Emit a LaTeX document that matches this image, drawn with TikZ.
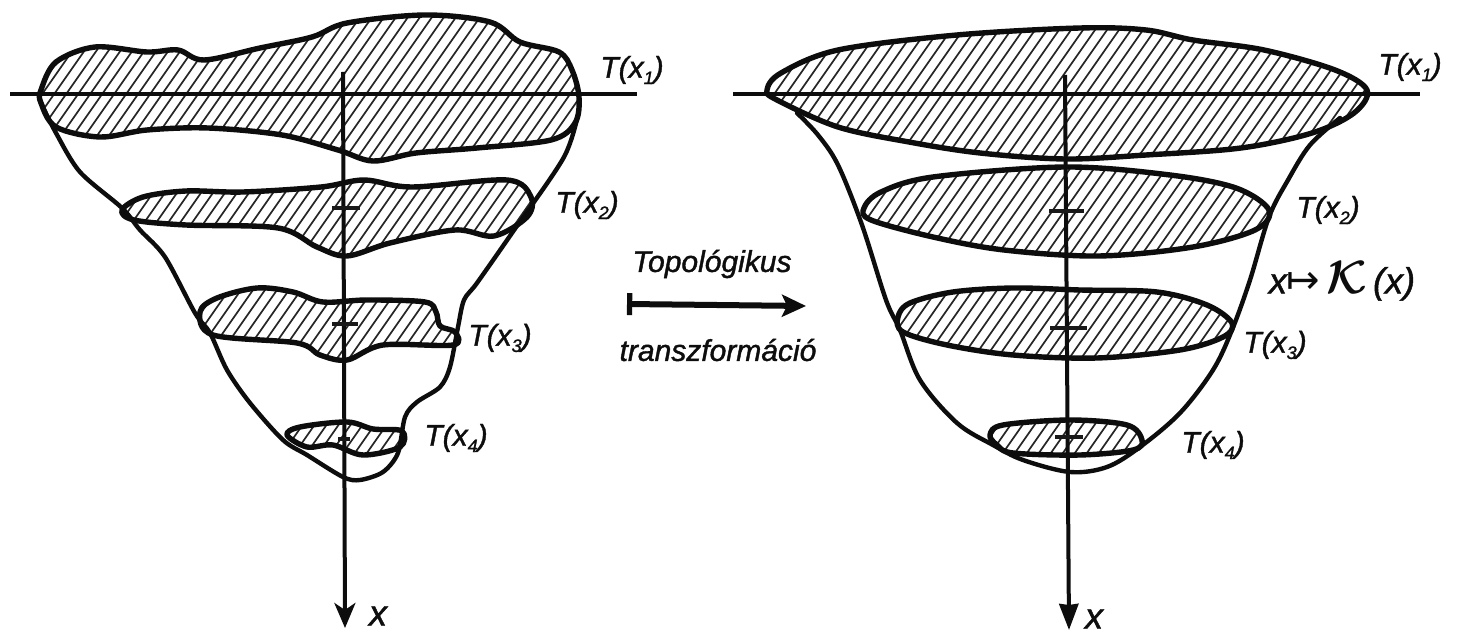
\documentclass[tikz,border=0pt]{standalone}
\usepackage{fontspec}
\setmainfont[ItalicFeatures={FakeBold=1.3}]{Liberation Sans}
\newfontfamily\symfont{DejaVu Sans}
\usetikzlibrary{arrows.meta}
\newcommand{\lowidx}[1]{\raisebox{-0.4ex}{\fontsize{9}{9}\selectfont #1}}
\tikzset{
  blob/.style={line width=2.7pt,line join=round,draw=black!95},
  hatchline/.style={line width=0.85pt,draw=black!85},
  outline/.style={line width=2.2pt,line join=round,line cap=round,draw=black!95},
  axisbase/.style={line width=2pt,draw=black!95},
  axisleft/.style={axisbase,-{Stealth[length=12.5pt,width=10.5pt,inset=3.5pt]}},
  axisright/.style={axisbase,-{Stealth[length=13pt,width=9.5pt,inset=0.5pt]}},
  baseline/.style={line width=2.4pt,draw=black!95},
  tickmark/.style={line width=2.2pt,draw=black!90},
  lab/.style={inner sep=0pt,font=\itshape\fontsize{15}{15}\selectfont,text=black!95},
  biglab/.style={inner sep=0pt,font=\itshape\fontsize{18}{18}\selectfont,text=black!95},
  midarrow/.style={line width=3pt,draw=black!95,{Bar[width=11pt,line width=2.6pt]}-{Stealth[length=12pt,width=11pt,inset=2.5pt]}},
}
\newcommand{\hatchblob}[1]{%
  \begin{scope}
    \clip plot[smooth cycle,tension=0.55] coordinates {#1};
    \foreach \c in {0,12,...,1900} { \draw[hatchline] (\c,0) -- ++(-350,500); }
  \end{scope}
  \draw[blob] plot[smooth cycle,tension=0.55] coordinates {#1};
}
\begin{document}
\begin{tikzpicture}[x=0.5pt,y=-0.5pt]
\useasboundingbox (0,0) rectangle (1462,641);
\fill[white] (0,0) rectangle (1462,641);
% LEFT
\hatchblob{(41,90)(56,62)(95,47)(147,52)(178,50)(204,60)(260,48)(312,37)(347,23)(425,15)(490,22)(520,42)(559,52)(572,70)(579,97)(575,123)(551,140)(477,148)(416,153)(373,161)(338,150)(282,135)(208,128)(147,130)(100,137)(56,127)(41,103)}
\hatchblob{(122,210)(143,197)(186,191)(243,192)(321,187)(364,180)(412,187)(507,180)(531,197)(527,217)(494,236)(455,230)(390,243)(347,256)(317,247)(278,228)(186,225)(134,220)}
\hatchblob{(200,312)(217,298)(257,288)(293,292)(323,302)(367,300)(425,302)(436,312)(440,326)(455,332)(453,345)(383,345)(347,360)(320,355)(297,343)(213,335)}
\hatchblob{(287,435)(300,427)(347,422)(373,429)(402,431)(400,447)(363,455)(333,445)(307,447)}
\draw[outline] plot[smooth,tension=0.5] coordinates {(41,103)(56,133)(80,172)(122,208)(140,230)(165,257)(195,313)(210,333)(227,370)(250,403)(283,440)(307,455)(343,477)(360,480)(383,472)(398,453)(405,417)(417,402)(440,387)(450,367)(458,327)(464,300)(477,283)(512,233)(564,157)(579,110)};
\coordinate (lw) at (10,94); \coordinate (le) at (637,94);
\draw[baseline] (lw) -- (le);
\coordinate (lt) at (343,72); \coordinate (lb) at (345,628);
\draw[axisleft] (lt) -- (lb);
\coordinate (la) at (332,208); \coordinate (lb2) at (360,208);
\coordinate (lc) at (332,324); \coordinate (ld) at (358,324);
\coordinate (le2) at (338,439); \coordinate (lf) at (350,439);
\draw[tickmark] (la) -- (lb2); \draw[tickmark] (lc) -- (ld); \draw[tickmark] (le2) -- (lf);
\node[lab] (lT1) at (632,70) {T(x\lowidx{1})};
\node[lab] (lT2) at (587,205) {T(x\lowidx{2})};
\node[lab] (lT3) at (500,338) {T(x\lowidx{3})};
\node[lab] (lT4) at (456,438) {T(x\lowidx{4})};
\node[biglab] (lx) at (378,616) {x};
% RIGHT
\hatchblob{(767,90)(781,73)(838,50)(957,35)(1080,28)(1146,30)(1193,40)(1264,50)(1335,70)(1367,90)(1354,113)(1312,133)(1241,148)(1146,155)(1065,159)(980,153)(909,142)(838,127)(777,100)}
\hatchblob{(864,208)(881,192)(933,177)(1065,167)(1170,175)(1236,188)(1269,210)(1255,230)(1193,247)(1099,256)(1004,250)(933,237)(871,220)}
\hatchblob{(898,317)(910,303)(953,292)(1013,288)(1080,290)(1157,292)(1207,305)(1232,323)(1223,337)(1180,350)(1097,358)(1013,355)(947,345)(903,332)}
\hatchblob{(990,435)(1003,425)(1070,420)(1127,425)(1142,440)(1133,450)(1080,455)(1013,453)(997,445)}
\draw[outline] plot[smooth,tension=0.55] coordinates {(797,113)(818,135)(838,165)(862,225)(886,300)(900,330)(920,380)(957,423)(993,445)(1023,460)(1070,472)(1107,467)(1140,447)(1180,413)(1213,370)(1232,330)(1250,280)(1269,217)(1288,180)(1310,145)(1340,118)};
\coordinate (rw) at (733,94); \coordinate (re) at (1420,94);
\draw[baseline] (rw) -- (re);
\coordinate (rt) at (1065,75); \coordinate (rb) at (1069,630);
\draw[axisright] (rt) -- (rb);
\coordinate (ra) at (1049,211); \coordinate (rb2) at (1084,211);
\coordinate (rc) at (1050,328); \coordinate (rd) at (1087,328);
\coordinate (re2) at (1055,437); \coordinate (rf) at (1083,437);
\draw[tickmark] (ra) -- (rb2); \draw[tickmark] (rc) -- (rd); \draw[tickmark] (re2) -- (rf);
\node[lab] (rT1) at (1410,67) {T(x\lowidx{1})};
\node[lab] (rT2) at (1328,210) {T(x\lowidx{2})};
\node[biglab] (rmap) at (1342,281) {x{\symfont\fontsize{20}{20}\selectfont ↦}\,\scalebox{1.35}{\boldmath$\mathcal{K}$}\,(x)};
\node[lab] (rT3) at (1275,345) {T(x\lowidx{3})};
\node[lab] (rT4) at (1213,445) {T(x\lowidx{4})};
\node[biglab] (rx) at (1094,619) {x};
% MIDDLE
\node[lab] (top) at (712,264) {Topológikus};
\node[lab] (tra) at (718,350) {transzformáció};
\coordinate (ms) at (627,304); \coordinate (me) at (806,306);
\draw[midarrow] (ms) -- (me);
\end{tikzpicture}
\end{document}
